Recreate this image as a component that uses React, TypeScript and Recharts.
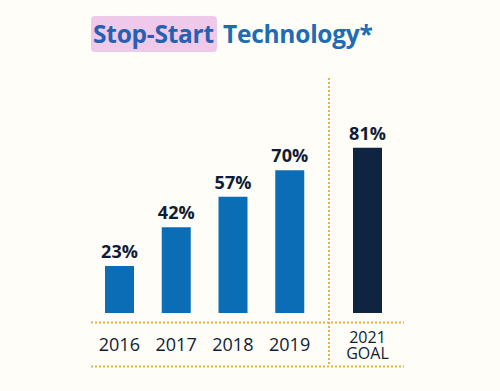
import React from "react";
import { BarChart, Bar, XAxis, YAxis, LabelList, Cell } from "recharts";

const years = ["2016", "2017", "2018", "2019"];
const shares = [23, 42, 57, 70];
const goalLabel = ["2021", "GOAL"];
const goalValue = 81;

const titleHighlighted = "Stop-Start";
const titleRest = "Technology*";

const historyData = years.map((y, i) => ({ year: y, value: shares[i] }));
const goalData = [{ year: goalLabel.join("\n"), value: goalValue }];

const FONT = "'Open Sans', sans-serif";
const NAVY = "#101c36";
const BLUE = "#0b6db5";
const GOAL_NAVY = "#0f2342";
const GOLD = "#f0b23c";

const Tick = (props: any) => {
  const { x, y, payload } = props;
  const lines = String(payload.value).split("\n");
  const single = lines.length === 1;
  return (
    <text
      x={x}
      y={y}
      textAnchor="middle"
      fill={NAVY}
      fontFamily={FONT}
      fontWeight={500}
      fontSize={single ? 18 : 16}
    >
      {lines.map((l: string, i: number) => (
        <tspan key={i} x={x} dy={i === 0 ? (single ? 38 : 29.5) : 16.5}>
          {l}
        </tspan>
      ))}
    </text>
  );
};

const pct = (v: any) => `${v}%`;

export default function App() {
  return (
    <div
      style={{
        position: "absolute",
        left: 0,
        top: 0,
        width: 500,
        height: 391,
        background: "#fefdf8",
        overflow: "hidden",
      }}
    >
      <div
        style={{
          position: "absolute",
          left: 91,
          top: 16,
          fontFamily: FONT,
          fontWeight: 700,
          fontSize: 24.5,
          letterSpacing: -0.25,
          lineHeight: "36px",
          color: "#1d6cb6",
          whiteSpace: "nowrap",
        }}
      >
        <span
          style={{
            display: "inline-block",
            background: "#efc9ea",
            borderRadius: 4,
            padding: "0 3px 0 2px",
            color: "#2660b0",
          }}
        >
          {titleHighlighted}
        </span>{" "}
        {titleRest}
      </div>

      <svg
        width={500}
        height={391}
        style={{ position: "absolute", left: 0, top: 0 }}
      >
        <line x1={91} x2={404} y1={322.5} y2={322.5} stroke={GOLD} strokeWidth={2} strokeDasharray="2 2" />
        <line x1={91} x2={404} y1={366.5} y2={366.5} stroke={GOLD} strokeWidth={2} strokeDasharray="2 2" />
        <line x1={329} x2={329} y1={78} y2={366} stroke={GOLD} strokeWidth={2} strokeDasharray="2 2" />
      </svg>

      <div style={{ position: "absolute", left: 0, top: 0 }}>
        <BarChart
          width={500}
          height={391}
          data={historyData}
          margin={{ top: 109, right: 182, left: 91, bottom: 28 }}
        >
          <XAxis
            dataKey="year"
            axisLine={false}
            tickLine={false}
            tickSize={0}
            tickMargin={0}
            height={50}
            interval={0}
            tick={<Tick />}
          />
          <YAxis hide domain={[0, 100]} />
          <Bar dataKey="value" fill={BLUE} barSize={29} isAnimationActive={false}>
            <LabelList
              dataKey="value"
              position="top"
              offset={8}
              formatter={pct}
              fill={NAVY}
              fontFamily={FONT}
              fontWeight={700}
              fontSize={18}
            />
          </Bar>
        </BarChart>
      </div>

      <div style={{ position: "absolute", left: 0, top: 0 }}>
        <BarChart
          width={500}
          height={391}
          data={goalData}
          margin={{ top: 109, right: 105, left: 340, bottom: 28 }}
        >
          <XAxis
            dataKey="year"
            axisLine={false}
            tickLine={false}
            tickSize={0}
            tickMargin={0}
            height={50}
            interval={0}
            tick={<Tick />}
          />
          <YAxis hide domain={[0, 100]} />
          <Bar dataKey="value" fill={GOAL_NAVY} barSize={29} isAnimationActive={false}>
            {goalData.map((d, i) => (
              <Cell key={i} fill={GOAL_NAVY} />
            ))}
            <LabelList
              dataKey="value"
              position="top"
              offset={8}
              formatter={pct}
              fill={NAVY}
              fontFamily={FONT}
              fontWeight={700}
              fontSize={18}
            />
          </Bar>
        </BarChart>
      </div>
    </div>
  );
}
